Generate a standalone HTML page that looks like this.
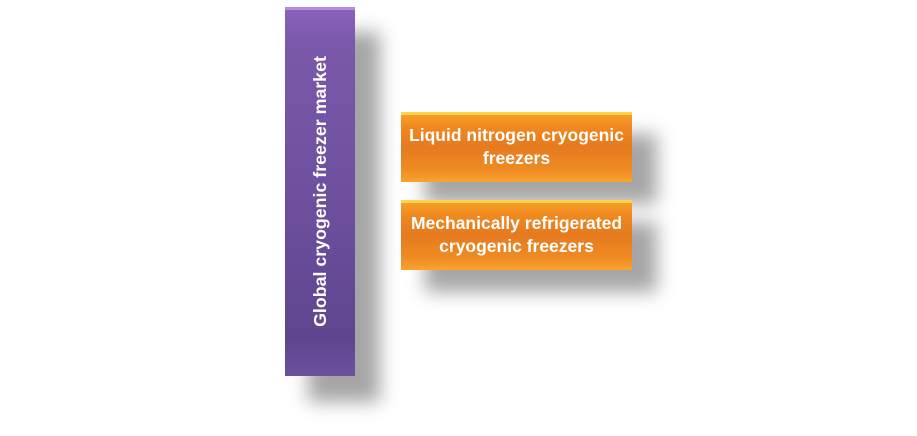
<!DOCTYPE html>
<html><head><style>
html,body{margin:0;padding:0;background:#fff;width:917px;height:436px;overflow:hidden;position:relative}
.sh{position:absolute;background:#888;filter:blur(9px);opacity:.75}
.box{position:absolute;color:#fff;font-family:"Liberation Sans",sans-serif;font-weight:bold;display:flex;align-items:center;justify-content:center;text-align:center;box-sizing:border-box}
.or{background:linear-gradient(#f9a52a 0%,#f08a20 20%,#e57a1f 50%,#ef8a22 80%,#f9a030 100%);box-shadow:inset 0 3px 0 #ffd34a,inset 0 -3px 0 #f8a22c;font-size:17.5px;line-height:23px}
.pu{box-shadow:inset 0 3px 0 #b78be0}
</style></head><body>
<div class="sh" style="left:308px;top:32px;width:72px;height:370px"></div>
<div class="sh" style="left:425px;top:134px;width:232px;height:70px"></div>
<div class="sh" style="left:425px;top:222px;width:232px;height:70px"></div>
<div class="box pu" style="left:285px;top:7px;width:70px;height:369px;background:linear-gradient(#8a62bb 0%,#7a58aa 10%,#6f509f 50%,#5f4590 90%,#6d519f 100%)">
<div style="transform:rotate(-90deg);white-space:nowrap;font-size:17.8px">Global cryogenic freezer market</div></div>
<div class="box or" style="left:401px;top:112px;width:231px;height:70px">Liquid nitrogen cryogenic<br>freezers</div>
<div class="box or" style="left:401px;top:200px;width:231px;height:70px">Mechanically refrigerated<br>cryogenic freezers</div>
</body></html>
